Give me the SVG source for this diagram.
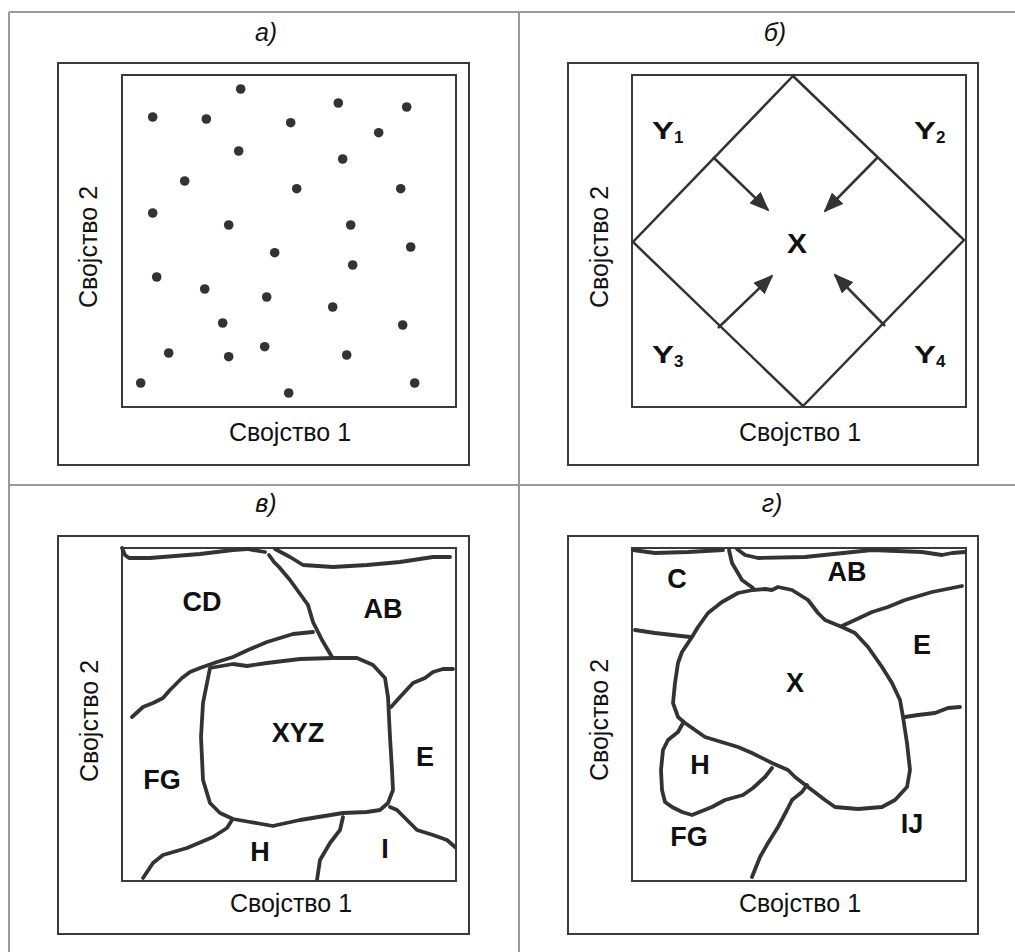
<svg xmlns="http://www.w3.org/2000/svg" width="1015" height="952" viewBox="0 0 1015 952">
  <style>
    .grid { stroke: #9a9a9a; stroke-width: 2; fill: none; }
    .box { stroke: #3a3a3a; stroke-width: 2; fill: none; }
    .edge { stroke: #333; stroke-width: 2.5; fill: none; }
    .bound { stroke: #333; stroke-width: 3.8; fill: none; stroke-linejoin: round; stroke-linecap: round; }
    .dot { fill: #333; }
    text { font-family: "Liberation Sans", Arial, sans-serif; fill: #111; }
    .ax { font-size: 25px; text-anchor: middle; }
    .ttl { font-size: 25px; font-style: italic; text-anchor: middle; }
    .lb { font-size: 27px; font-weight: bold; text-anchor: middle; }
    .yl { font-size: 24px; font-weight: bold; }
    .sub { font-size: 17px; font-weight: bold; }
  </style>
  <defs>
    <marker id="head" markerUnits="userSpaceOnUse" markerWidth="20" markerHeight="16" refX="18" refY="8" orient="auto">
      <path d="M0,0 L20,8 L0,16 z" fill="#333"/>
    </marker>
  </defs>

  <rect width="1015" height="952" fill="#fff"/>

  <!-- table rules -->
  <g id="table">
    <line class="grid" x1="9" y1="12" x2="1015" y2="12"/>
    <line class="grid" x1="9" y1="12" x2="9" y2="952"/>
    <line class="grid" x1="519" y1="12" x2="519" y2="952"/>
    <line class="grid" x1="9" y1="485" x2="1015" y2="485"/>
  </g>

  <!-- panel a: scattered points -->
  <g id="panel-a">
    <text class="ttl" x="266" y="41">a)</text>
    <rect class="box" x="58" y="63" width="411" height="402"/>
    <rect class="box" x="122" y="75" width="334" height="332"/>
    <text class="ax" x="290" y="441">Својство 1</text>
    <text class="ax" transform="translate(97,247) rotate(-90)">Својство 2</text>
    <g class="dot">
      <circle cx="152.7" cy="117" r="4.8"/>
      <circle cx="240.7" cy="89" r="4.8"/>
      <circle cx="206.3" cy="119" r="4.8"/>
      <circle cx="290.7" cy="122.7" r="4.8"/>
      <circle cx="338.3" cy="103" r="4.8"/>
      <circle cx="406.7" cy="107" r="4.8"/>
      <circle cx="378.7" cy="132.7" r="4.8"/>
      <circle cx="238.7" cy="151" r="4.8"/>
      <circle cx="342.7" cy="159" r="4.8"/>
      <circle cx="184.7" cy="181" r="4.8"/>
      <circle cx="296.7" cy="188.7" r="4.8"/>
      <circle cx="400.7" cy="188.7" r="4.8"/>
      <circle cx="152.7" cy="213" r="4.8"/>
      <circle cx="228.7" cy="225" r="4.8"/>
      <circle cx="350.7" cy="225" r="4.8"/>
      <circle cx="274.7" cy="252.7" r="4.8"/>
      <circle cx="410.7" cy="247" r="4.8"/>
      <circle cx="352.7" cy="265" r="4.8"/>
      <circle cx="156.7" cy="277" r="4.8"/>
      <circle cx="204.7" cy="289" r="4.8"/>
      <circle cx="266.7" cy="297" r="4.8"/>
      <circle cx="332.7" cy="307" r="4.8"/>
      <circle cx="222.7" cy="323" r="4.8"/>
      <circle cx="402.7" cy="325" r="4.8"/>
      <circle cx="168.7" cy="353" r="4.8"/>
      <circle cx="228.7" cy="356.7" r="4.8"/>
      <circle cx="264.7" cy="346.7" r="4.8"/>
      <circle cx="346.7" cy="355" r="4.8"/>
      <circle cx="140.7" cy="383" r="4.8"/>
      <circle cx="414.7" cy="383" r="4.8"/>
      <circle cx="288.7" cy="393" r="4.8"/>
    </g>
  </g>

  <!-- panel b: diamond region with inward arrows -->
  <g id="panel-b">
    <text class="ttl" x="775" y="41">б)</text>
    <rect class="box" x="568" y="63" width="410" height="402"/>
    <rect class="box" x="632" y="75" width="334" height="332"/>
    <text class="ax" x="800" y="441">Својство 1</text>
    <text class="ax" transform="translate(608,247) rotate(-90)">Својство 2</text>
    <path class="edge" d="M793,76 L964,240 L803,406 L633,242 Z"/>
    <text class="lb" x="797" y="253" textLength="20" lengthAdjust="spacingAndGlyphs">X</text>
    <g id="label-y1"><text class="yl" x="652" y="139" textLength="22" lengthAdjust="spacingAndGlyphs">Y</text><text class="sub" x="674" y="143">1</text></g>
    <g id="label-y2"><text class="yl" x="914" y="139" textLength="22" lengthAdjust="spacingAndGlyphs">Y</text><text class="sub" x="936" y="143">2</text></g>
    <g id="label-y3"><text class="yl" x="652" y="363" textLength="22" lengthAdjust="spacingAndGlyphs">Y</text><text class="sub" x="674" y="367">3</text></g>
    <g id="label-y4"><text class="yl" x="914" y="363" textLength="22" lengthAdjust="spacingAndGlyphs">Y</text><text class="sub" x="936" y="367">4</text></g>
  </g>

  <g id="connectors">
    <line class="edge" x1="713" y1="157" x2="768" y2="210" marker-end="url(#head)"/>
    <line class="edge" x1="878" y1="157" x2="825" y2="211" marker-end="url(#head)"/>
    <line class="edge" x1="718" y1="328" x2="772" y2="276" marker-end="url(#head)"/>
    <line class="edge" x1="885" y1="326" x2="835" y2="275" marker-end="url(#head)"/>
  </g>

  <!-- panel c: region XYZ among neighbours -->
  <g id="panel-c">
    <text class="ttl" x="266" y="512">в)</text>
    <rect class="box" x="58" y="536" width="411" height="398"/>
    <rect class="box" x="122" y="548" width="334" height="333"/>
    <text class="ax" x="291" y="912">Својство 1</text>
    <text class="ax" transform="translate(98,721) rotate(-90)">Својство 2</text>
    <path class="bound" d="M122,548 L125,555 L129,558 L150,558 L200,554 L233,550 L247,549 L265,552"/>
    <path class="bound" d="M275,549 L290,557 L303,565 L333,567 L367,565 L400,562 L433,557 L450,557"/>
    <path class="bound" d="M269,555 L274,562 L279,567 L290,580 L303,598 L308,605 L313,622 L322,640 L332,657"/>
    <path class="bound" d="M313,632 L293,634 L267,642 L248,650 L233,657 L217,662 L200,668 L190,672 L182,678 L170,690 L163,698 L153,703 L143,707 L132,717"/>
    <path class="bound" d="M210,668 L233,664 L247,666 L267,663 L300,659 L333,658 L357,658 L373,665 L385,678 L388,697 L390,737 L392,770 L393,790 L388,803 L380,810 L367,812 L343,813 L300,820 L277,825 L273,826 L250,822 L233,819 L220,813 L210,803 L203,780 L201,737 L203,703 Z"/>
    <path class="bound" d="M391,707 L400,697 L413,683 L425,678 L433,672 L443,669 L453,669"/>
    <path class="bound" d="M390,807 L397,810 L407,820 L417,830 L433,835 L447,840 L455,847"/>
    <path class="bound" d="M343,817 L340,830 L330,843 L320,860 L317,880"/>
    <path class="bound" d="M232,820 L227,828 L213,837 L187,848 L163,855 L153,863 L143,878"/>
    <text class="lb" x="202" y="611">CD</text>
    <text class="lb" x="383" y="618">AB</text>
    <text class="lb" x="298" y="742">XYZ</text>
    <text class="lb" x="425" y="766">E</text>
    <text class="lb" x="162" y="789">FG</text>
    <text class="lb" x="260" y="861">H</text>
    <text class="lb" x="385" y="858">I</text>
  </g>

  <!-- panel d: region X among neighbours -->
  <g id="panel-d">
    <text class="ttl" x="772" y="512">г)</text>
    <rect class="box" x="568" y="536" width="410" height="398"/>
    <rect class="box" x="632" y="548" width="334" height="333"/>
    <text class="ax" x="800" y="912">Својство 1</text>
    <text class="ax" transform="translate(608,720) rotate(-90)">Својство 2</text>
    <path class="bound" d="M633,550 L655,553 L688,552 L723,550"/>
    <path class="bound" d="M737,549 L745,555 L758,558 L805,557 L872,550 L922,552 L942,555 L952,553 L965,552"/>
    <path class="bound" d="M729,550 L732,563 L742,580 L753,588"/>
    <path class="bound" d="M753,590 L765,589 L772,590 L778,587 L792,590 L808,600 L818,613 L825,620 L842,627 L855,633 L868,647 L882,667 L892,683 L900,700 L903,717 L907,743 L910,770 L907,787 L895,800 L882,807 L858,809 L835,807 L825,800 L808,787 L795,777 L788,770 L772,763 L752,753 L738,747 L705,737 L685,723 L678,717 L673,703 L675,683 L678,663 L682,652 L692,637 L698,627 L708,613 L722,602 L738,593 Z"/>
    <path class="bound" d="M635,630 L655,633 L690,637"/>
    <path class="bound" d="M842,626 L855,620 L872,612 L888,607 L905,600 L932,592 L962,586"/>
    <path class="bound" d="M905,717 L918,715 L935,713 L948,708 L960,707"/>
    <path class="bound" d="M683,723 L678,732 L668,740 L663,750 L661,770 L662,790 L665,802 L672,807 L682,812 L692,815 L697,813 L712,807 L725,800 L743,795 L753,788 L765,777 L772,768"/>
    <path class="bound" d="M807,785 L802,792 L792,800 L787,810 L778,827 L768,843 L760,857 L752,877"/>
    <text class="lb" x="677" y="588">C</text>
    <text class="lb" x="847" y="581">AB</text>
    <text class="lb" x="922" y="654">E</text>
    <text class="lb" x="795" y="692">X</text>
    <text class="lb" x="700" y="774">H</text>
    <text class="lb" x="689" y="846">FG</text>
    <text class="lb" x="912" y="833">IJ</text>
  </g>
</svg>
